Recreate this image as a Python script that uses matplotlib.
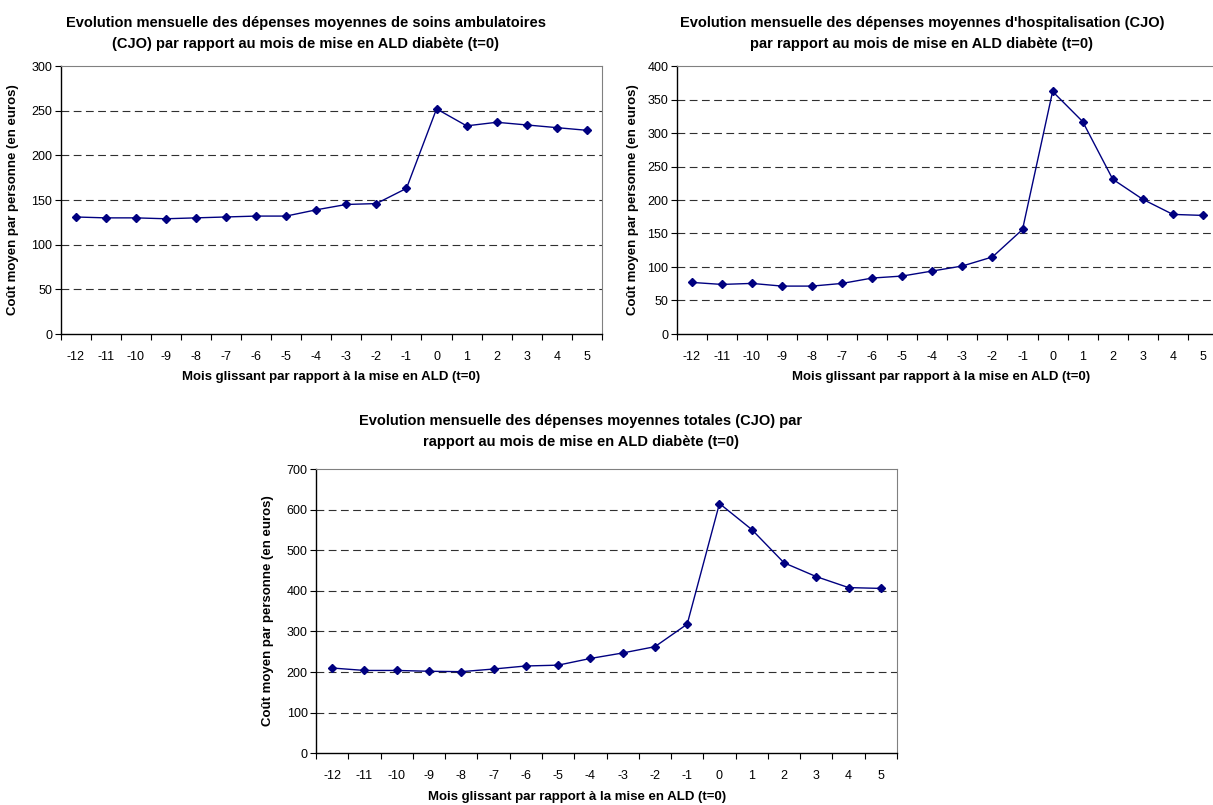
import matplotlib
matplotlib.use('Agg')
import matplotlib.pyplot as plt
import numpy as np

plt.rcParams['font.family'] = ['Liberation Sans', 'DejaVu Sans']

# Mois glissants autour de la mise en ALD (t=0)
mois = list(range(-12, 6))

# Dépenses moyennes mensuelles par personne (euros, CJO)
ambulatoire = [131, 130, 130, 129, 130, 131, 132, 132, 139, 145, 146, 163,
               252, 233, 237, 234, 231, 228]
hospitalisation = [77, 74, 75.5, 71.5, 71.5, 75.5, 83.5, 86.5, 94, 101.5, 115, 156,
                   362, 317, 231, 201, 178.5, 177]
totales = [210, 204, 204, 202, 201, 207.5, 215, 217, 233.5, 247, 262.5, 318,
           615, 551, 469, 435, 408, 406]

titre_amb = ["Evolution mensuelle des dépenses moyennes de soins ambulatoires",
             "(CJO) par rapport au mois de mise en ALD diabète (t=0)"]
titre_hosp = ["Evolution mensuelle des dépenses moyennes d'hospitalisation (CJO)",
              "par rapport au mois de mise en ALD diabète (t=0)"]
titre_tot = ["Evolution mensuelle des dépenses moyennes totales (CJO) par",
             "rapport au mois de mise en ALD diabète (t=0)"]
label_x = "Mois glissant par rapport à la mise en ALD (t=0)"
label_y = "Coût moyen par personne (en euros)"

W, H = 1213, 805
fig = plt.figure(figsize=(W / 100, H / 100), dpi=100)


def px_axes(left, top, right, bottom):
    return fig.add_axes([left / W, 1 - bottom / H, (right - left) / W, (bottom - top) / H])


def ftext(x, y, s, **kw):
    fig.text(x / W, 1 - y / H, s, **kw)


def titre(x, y, lignes):
    for i, ligne in enumerate(lignes):
        ftext(x, y + 21 * i, ligne, ha='center', va='center', fontsize=10.5,
              fontweight='bold')


def draw_chart(ax, valeurs, ymax, ystep):
    ax.plot(mois, valeurs, color='#000080', lw=1.0, marker='D', ms=4.2,
            mfc='#000080', mec='#000080', zorder=3)
    ax.set_xlim(-12.5, 5.5)
    ax.set_ylim(0, ymax)
    ax.set_yticks(np.arange(0, ymax + 1, ystep))
    for y in np.arange(ystep, ymax, ystep):
        ax.axhline(y, color='#303030', lw=0.8, dashes=(7, 4), zorder=1)
    # ticks aux frontières des catégories, libellés au centre
    ax.set_xticks(np.arange(-12.5, 6, 1))
    ax.set_xticklabels([])
    ax.set_xticks(mois, minor=True)
    ax.set_xticklabels([str(m) for m in mois], minor=True)
    ax.tick_params(axis='x', which='major', direction='out', length=4, width=0.8)
    ax.tick_params(axis='x', which='minor', length=0, pad=12, labelsize=9)
    ax.tick_params(axis='y', direction='out', length=4, width=0.8, labelsize=9, pad=2)
    for side in ('left', 'bottom'):
        ax.spines[side].set_color('black')
        ax.spines[side].set_linewidth(1.0)
    for side in ('right', 'top'):
        ax.spines[side].set_color('#808080')
        ax.spines[side].set_linewidth(0.8)


ax1 = px_axes(60.5, 66, 602, 334)
draw_chart(ax1, ambulatoire, 300, 50)
titre(306, 23, titre_amb)
ftext(331, 377, label_x, ha='center', va='center', fontsize=9.5, fontweight='bold')
ftext(13, 200, label_y, ha='center', va='center', fontsize=9.5, fontweight='bold', rotation=90)

ax2 = px_axes(676.7, 66, 1218, 334)
draw_chart(ax2, hospitalisation, 400, 50)
titre(922, 23, titre_hosp)
ftext(941, 377, label_x, ha='center', va='center', fontsize=9.5, fontweight='bold')
ftext(633, 200, label_y, ha='center', va='center', fontsize=9.5, fontweight='bold', rotation=90)

ax3 = px_axes(316, 469, 897, 753.3)
draw_chart(ax3, totales, 700, 100)
titre(581, 421, titre_tot)
ftext(577, 797, label_x, ha='center', va='center', fontsize=9.5, fontweight='bold')
ftext(268, 611, label_y, ha='center', va='center', fontsize=9.5, fontweight='bold', rotation=90)

fig.savefig('out.png', dpi=100)
